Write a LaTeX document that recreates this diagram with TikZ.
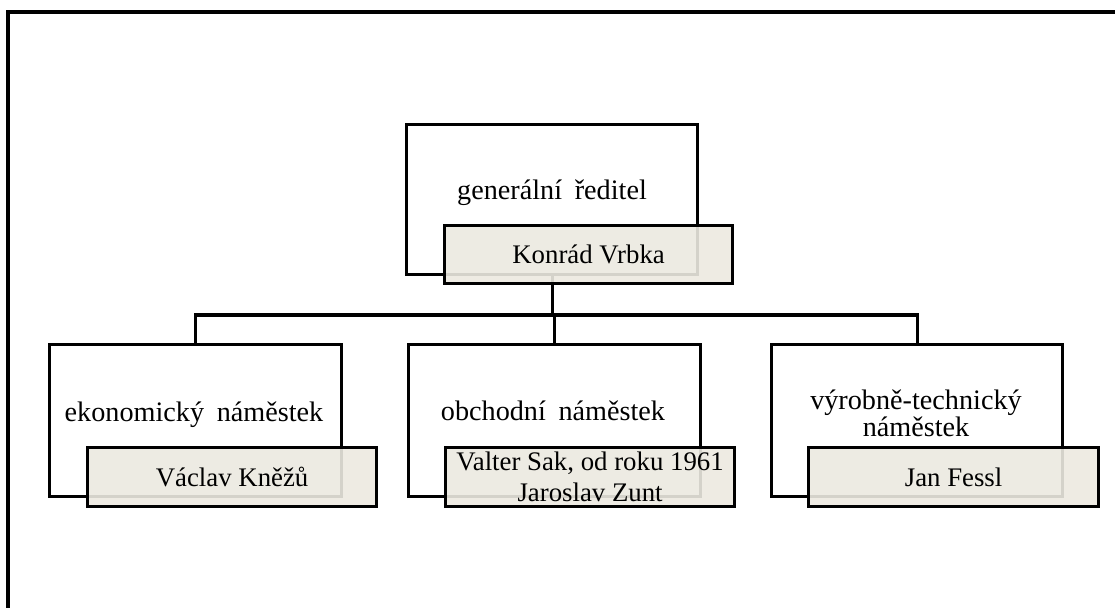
\documentclass[tikz,border=0pt]{standalone}
\usepackage{fontspec}
\setmainfont{Liberation Serif}
% job titles are set with wider word gaps
\newfontfamily\widefont{Liberation Serif}[WordSpace=1.8]
\definecolor{namefill}{RGB}{236,233,224}
\begin{document}
\begin{tikzpicture}[x=0.5pt, y=-0.5pt,
  every node/.style={font=\fontsize{13.4pt}{15.5pt}\selectfont},
  post/.style={draw, line width=1.6pt, fill=white, inner sep=0pt, anchor=north west,
               minimum width=146pt, minimum height=76pt},
  namebox/.style={draw, line width=1.6pt, fill=namefill, fill opacity=0.9,
               draw opacity=1, text opacity=1, inner sep=0pt, anchor=north west,
               minimum width=144.5pt, minimum height=29.5pt, align=center},
  title/.style={font=\fontsize{14.1pt}{13.5pt}\selectfont\widefont, anchor=base, align=center, inner sep=0pt},
  wire/.style={line width=1.6pt}
]
\useasboundingbox (0,0) rectangle (1115,608);

% outer frame (left and top edges)
\draw[line width=1.6pt] (8,608) -- (8,12) -- (1115,12);

% position boxes
\node[post, minimum width=145.5pt, minimum height=75pt] (gd) at (405,123) {};
\node[post] (ek) at (48,343) {};
\node[post] (ob) at (407,343) {};
\node[post, minimum width=145.5pt] (vt) at (770,343) {};

% job titles (anchor base = baseline of the last line)
\node[title] (gd-t) at (552,200) {generální ředitel};
\node[title] (ek-t) at (194,422) {ekonomický náměstek};
\node[title] (ob-t) at (553,421) {obchodní náměstek};
\node[title] (vt-t) at (916,437) {výrobně-technický\\náměstek};

% connectors
\coordinate (bus) at (551,315);
\draw[wire] (gd.south) -- (gd.south |- bus);
\draw[wire] (ek.north) |- (bus) -| (vt.north);
\draw[wire] (ob.north) -- (ob.north |- bus);

% name boxes
\node[namebox, minimum width=144pt, minimum height=29pt] (gd-n) at (443,224) {Konrád Vrbka};
\node[namebox] (ek-n) at (86,446) {Václav Kněžů};
\node[namebox] (ob-n) at (444,446) {Valter Sak, od roku 1961\\Jaroslav Zunt};
\node[namebox, minimum width=145pt] (vt-n) at (807,446) {Jan Fessl};
\end{tikzpicture}
\end{document}
